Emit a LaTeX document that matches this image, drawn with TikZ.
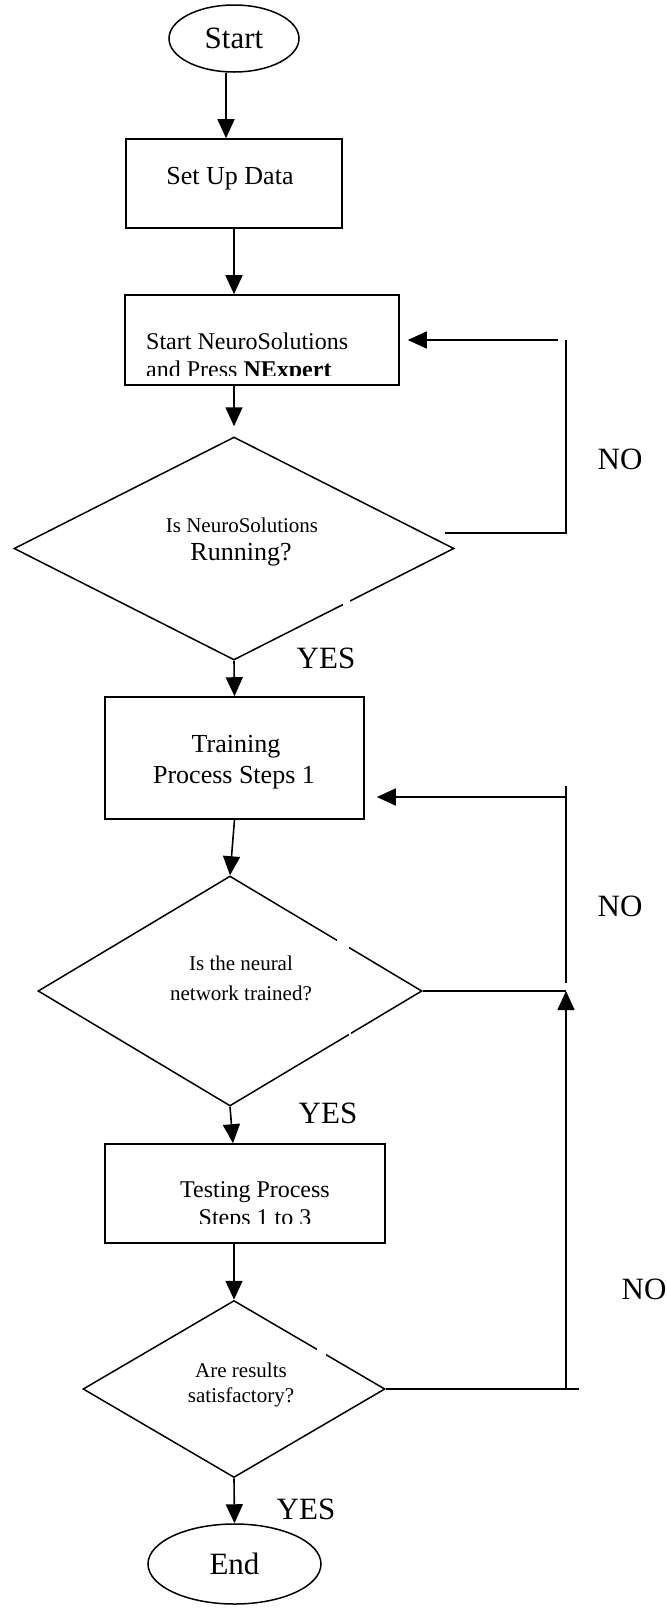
\documentclass[tikz,border=0pt]{standalone}
\usepackage{fontspec}
\setmainfont{Liberation Serif}
\usetikzlibrary{shapes.geometric,arrows.meta}

\begin{document}
\begin{tikzpicture} %Diagrama de flujo
  [
    x=1pt, y=-1pt,
    % Definimos los estilos para no repetir código
    caja/.style={rectangle, draw, line width=1.6pt, inner sep=0pt},
    rombo/.style={diamond, draw, line width=1.5pt, inner sep=0pt},
    elipse/.style={ellipse, draw, line width=1.5pt, inner sep=0pt},
    flecha/.style={line width=1.6pt, -{Triangle[length=19pt, width=17pt]}},
    linea/.style={line width=1.6pt},
    grande/.style={font=\fontsize{31}{36}\selectfont, inner sep=0pt},
    media/.style={font=\fontsize{26}{30}\selectfont, inner sep=0pt},
    texto/.style={font=\fontsize{24}{28}\selectfont, inner sep=0pt},
    chica/.style={font=\fontsize{21}{25}\selectfont, inner sep=0pt}
  ]
  \useasboundingbox (0,0) rectangle (667,1610);

  % Nodos
  \node[elipse, grande, minimum width=130pt, minimum height=67pt] (inicio) at (234,38.5) {Start};
  \node[caja, minimum width=216pt, minimum height=89pt] (datos) at (234,183.5) {};
  \node[media, anchor=base] (tdatos) at (230,184) {Set Up Data};

  \node[caja, minimum width=274pt, minimum height=90pt] (neuro) at (262,340) {};
  \begin{scope}
    \clip (125,295) rectangle (399,375);
    \node[texto, anchor=base west] (tneuro1) at (146,349) {Start NeuroSolutions};
    \node[texto, anchor=base west] (tneuro2) at (146,377) {and Press \textbf{NExpert}};
  \end{scope}

  \node[rombo, minimum width=440pt, minimum height=223pt] (rombo1) at (234,548.5) {};
  \node[chica, anchor=base] (trombo1a) at (242,532) {Is NeuroSolutions};
  \node[media, anchor=base] (trombo1b) at (241,560) {Running?};

  \node[caja, minimum width=259pt, minimum height=122pt] (entreno) at (234.5,758) {};
  \node[media, anchor=base] (tentreno1) at (236,752) {Training};
  \node[media, anchor=base] (tentreno2) at (234,783) {Process Steps 1};

  \node[rombo, minimum width=384pt, minimum height=230pt] (rombo2) at (230,991) {};
  \node[chica, anchor=base] (trombo2a) at (241,970) {Is the neural};
  \node[chica, anchor=base] (trombo2b) at (241,1000) {network trained?};

  \node[caja, minimum width=280pt, minimum height=99pt] (prueba) at (245,1193.5) {};
  \begin{scope}
    \clip (105,1144) rectangle (385,1223);
    \node[texto, anchor=base] (tprueba1) at (255,1197) {Testing Process};
    \node[texto, anchor=base] (tprueba2) at (255,1225) {Steps 1 to 3};
  \end{scope}

  \node[rombo, minimum width=302pt, minimum height=177pt] (rombo3) at (234,1389) {};
  \node[chica, anchor=base] (trombo3a) at (241,1377) {Are results};
  \node[chica, anchor=base] (trombo3b) at (241,1402) {satisfactory?};

  \node[elipse, grande, minimum width=173pt, minimum height=80pt] (fin) at (234.5,1564) {End};

  % cortes blancos en los bordes de los rombos
  \fill[white] (343,599) rectangle (350,608);
  \fill[white] (337,936) rectangle (349,951);
  \fill[white] (349,1032) rectangle (351,1039);
  \fill[white] (317,1345) rectangle (326,1358);

  % Etiquetas
  \node[grande] (si1) at (326,658) {YES};
  \node[grande] (si2) at (328,1113) {YES};
  \node[grande] (si3) at (306,1509) {YES};
  \node[grande] (no1) at (620,459) {NO};
  \node[grande] (no2) at (620,906) {NO};
  \node[grande] (no3) at (644,1289) {NO};

  % Flechas principales
  \draw[flecha] ([xshift=-8pt]inicio.south) -- ([xshift=-8pt]datos.north);
  \draw[flecha] (datos.south) -- (datos.south |- neuro.north);
  \draw[flecha, shorten >=10pt] (rombo1.north |- neuro.south) -- (rombo1.north);
  \draw[flecha] (rombo1.south) -- (entreno.north);
  \draw[flecha] (entreno.south) -- (rombo2.north);
  \draw[flecha] (rombo2.south) -- ([xshift=-12pt]prueba.north);
  \draw[flecha] (rombo3.north |- prueba.south) -- (rombo3.north);
  \draw[flecha] (rombo3.south) -- (fin.north);

  % Lazos de regreso (NO)
  \coordinate (c1a) at (445,533);
  \coordinate (c1b) at (566,533);
  \coordinate (c1c) at (566,340);
  \coordinate (c1d) at (558,340);
  \draw[linea] (c1a) -- (c1b) -- (c1c);
  \draw[flecha, shorten >=8pt] (c1d) -- (neuro.east);

  \coordinate (c2a) at (566,991);
  \coordinate (c2b) at (566,983);
  \coordinate (c2c) at (566,786);
  \coordinate (c2d) at (566,797);
  \draw[linea] (rombo2.east) -- (c2a);
  \draw[linea] (c2b) -- (c2c);
  \draw[flecha, shorten >=12pt] (c2d) -- (entreno.east |- c2d);

  \coordinate (c3a) at (579,1389);
  \draw[linea] (rombo3.east) -- (c3a);
  \draw[flecha] (rombo3.east -| c2a) -- (c2a);

\end{tikzpicture}
\end{document}
